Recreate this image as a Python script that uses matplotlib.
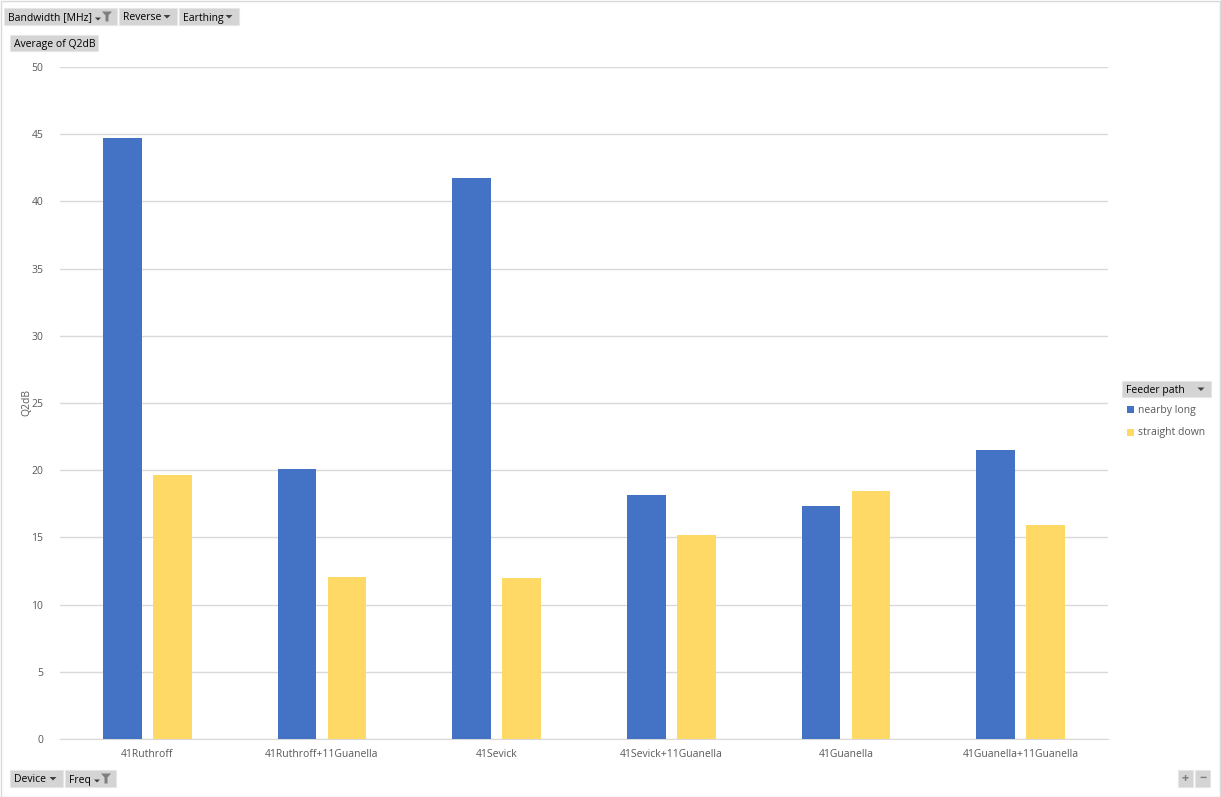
import matplotlib.pyplot as plt
from matplotlib.patches import Rectangle, Polygon
import numpy as np

plt.rcParams['font.family'] = ['Open Sans', 'DejaVu Sans']

# data
devices = ["41Ruthroff", "41Ruthroff+11Guanella", "41Sevick",
           "41Sevick+11Guanella", "41Guanella", "41Guanella+11Guanella"]
nearby_long = [44.72, 20.09, 41.74, 18.15, 17.34, 21.5]
straight_down = [19.64, 12.05, 11.98, 15.18, 18.45, 15.92]
series_names = ["nearby long", "straight down"]
yticks = [0, 5, 10, 15, 20, 25, 30, 35, 40, 45, 50]

W, H = 1221, 797
BLUE = "#4472c4"
YELLOW = "#ffd966"
TXT = "#595959"

fig = plt.figure(figsize=(W / 100, H / 100), dpi=100)


def fx(px):
    return px / W


def fy(py):
    return 1 - py / H


# plot area in pixels: x 60..1108, y 67..739
ax = fig.add_axes([fx(60), fy(739), fx(1108) - fx(60), (739 - 67) / H])
x = np.arange(len(devices))
bw = 0.223
ax.bar(x - 0.143, nearby_long, bw, color=BLUE, zorder=3)
ax.bar(x + 0.143, straight_down, bw, color=YELLOW, zorder=3)
ax.set_xlim(-0.5, len(devices) - 0.5)
ax.set_ylim(0, 50)
ax.set_yticks(yticks)
ax.set_xticks(x)
ax.set_xticklabels(devices)
ax.grid(axis='y', color="#d9d9d9", lw=1, zorder=0)
for s in ['top', 'right', 'left']:
    ax.spines[s].set_visible(False)
ax.spines['bottom'].set_color("#d9d9d9")
ax.tick_params(axis='both', length=0, labelsize=7.5, colors=TXT)
ax.tick_params(axis='y', pad=12)
ax.tick_params(axis='x', pad=7)
fig.text(fx(27), fy(403), "Q2dB", fontsize=7.5, color=TXT, rotation=90,
         ha='center', va='center')

# outer frame
fig.add_artist(Rectangle((fx(0.5), fy(796.5)), fx(1220) - fx(0.5), (796) / H,
                         transform=fig.transFigure, fill=False,
                         ec="#d9d9d9", lw=1))


def button(x0, y0, x1, y1, label, arrow=False, funnel=False):
    fig.add_artist(Rectangle((fx(x0), fy(y1)), fx(x1) - fx(x0), (y1 - y0) / H,
                             transform=fig.transFigure, fc="#d4d4d4",
                             ec="#e6e6e6", lw=0.8))
    fig.text(fx(x0 + 4), fy((y0 + y1) / 2 + 1.5), label, fontsize=7.5,
             color="#000000", va='center', ha='left')
    cx, cy = x1 - 10, (y0 + y1) / 2
    if arrow:
        fig.add_artist(Polygon([(fx(cx - 3.5), fy(cy - 1.5)), (fx(cx + 3.5), fy(cy - 1.5)),
                                (fx(cx), fy(cy + 2))], closed=True,
                               transform=fig.transFigure, fc="#404040", ec='none'))
    if funnel:
        # small arrow left of the funnel
        ax_ = cx - 9
        fig.add_artist(Polygon([(fx(ax_ - 3), fy(cy + 1)), (fx(ax_ + 3), fy(cy + 1)),
                                (fx(ax_), fy(cy + 4))], closed=True,
                               transform=fig.transFigure, fc="#404040", ec='none'))
        fig.add_artist(Polygon([(fx(cx - 5), fy(cy - 5)), (fx(cx + 5), fy(cy - 5)),
                                (fx(cx + 1.5), fy(cy - 1)), (fx(cx + 1.5), fy(cy + 5)),
                                (fx(cx - 1.5), fy(cy + 5)), (fx(cx - 1.5), fy(cy - 1))],
                               closed=True, transform=fig.transFigure,
                               fc="#7f7f7f", ec='none'))


button(4, 8, 117, 25, "Bandwidth [MHz]", funnel=True)
button(119, 8, 177, 25, "Reverse", arrow=True)
button(179, 8, 239, 25, "Earthing", arrow=True)
button(10, 35, 98, 51, "Average of Q2dB")
button(10, 770, 63, 787, "Device", arrow=True)
button(65, 770, 116, 787, "Freq", funnel=True)
button(1122, 381, 1211, 397, "Feeder path", arrow=True)

# zoom +/- buttons
for x0, sym in [(1178, '+'), (1195, '\u2212')]:
    fig.add_artist(Rectangle((fx(x0), fy(787)), fx(15), 17 / H,
                             transform=fig.transFigure, fc="#d4d4d4",
                             ec="#e6e6e6", lw=0.8))
    fig.text(fx(x0 + 7.5), fy(778.5), sym, fontsize=9, color="#7f7f7f",
             ha='center', va='center', fontweight='bold')

# legend entries
for i, (name, col) in enumerate(zip(series_names, [BLUE, YELLOW])):
    yy = 409 + i * 23
    fig.add_artist(Rectangle((fx(1127), fy(yy + 3.5)), fx(7), 7 / H,
                             transform=fig.transFigure, fc=col, ec='none'))
    fig.text(fx(1138), fy(yy + 1), name, fontsize=7.5, color=TXT,
             ha='left', va='center')

fig.savefig("out.png", dpi=100)
